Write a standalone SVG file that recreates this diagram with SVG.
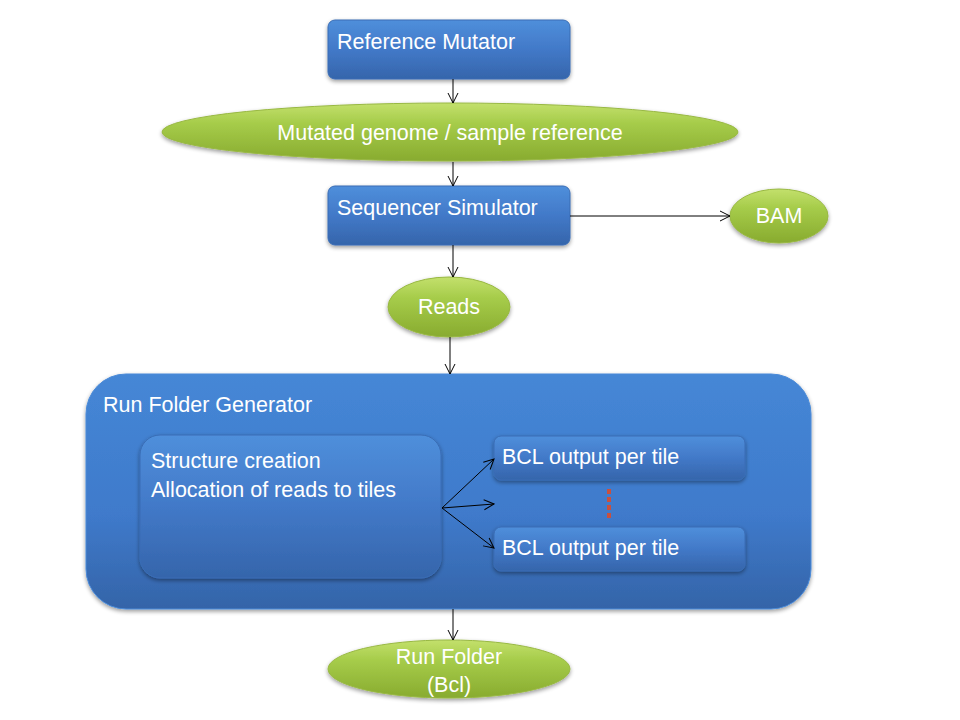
<svg xmlns="http://www.w3.org/2000/svg" width="960" height="720" viewBox="0 0 960 720">
<defs>
<linearGradient id="gBlue" x1="0" y1="0" x2="0" y2="1">
<stop offset="0" stop-color="#4f8fdb"/>
<stop offset="0.5" stop-color="#4279c8"/>
<stop offset="1" stop-color="#3565ab"/>
</linearGradient>
<linearGradient id="gBig" x1="0" y1="0" x2="0" y2="1">
<stop offset="0" stop-color="#4587d6"/>
<stop offset="0.6" stop-color="#3f7acb"/>
<stop offset="1" stop-color="#3464a8"/>
</linearGradient>
<linearGradient id="gGreen" x1="0" y1="0" x2="0" y2="1">
<stop offset="0" stop-color="#c3e06c"/>
<stop offset="0.35" stop-color="#a6cc4a"/>
<stop offset="1" stop-color="#88ab2f"/>
</linearGradient>
<filter id="sh" x="-10%" y="-10%" width="120%" height="130%">
<feGaussianBlur in="SourceAlpha" stdDeviation="2"/>
<feOffset dx="0" dy="2" result="b"/>
<feComponentTransfer><feFuncA type="linear" slope="0.4"/></feComponentTransfer>
<feMerge><feMergeNode/><feMergeNode in="SourceGraphic"/></feMerge>
</filter>
<marker id="arr" markerWidth="12" markerHeight="12" viewBox="0 0 12 12" refX="11" refY="6" orient="auto" markerUnits="userSpaceOnUse">
<polyline points="1,1 11,6 1,11" fill="none" stroke="#000" stroke-width="1"/>
</marker>
</defs>
<style>
.box{fill:url(#gBlue);stroke:#3a6db5;stroke-width:1;filter:url(#sh)}
.big{fill:url(#gBig);stroke:#4a8ad8;stroke-width:1;filter:url(#sh)}
.ell{fill:url(#gGreen);stroke:#98b842;stroke-width:1;filter:url(#sh)}
.t{font-family:"Liberation Sans",Arial,sans-serif;font-size:21.5px;fill:#ffffff}
.c{text-anchor:middle}
.ln{stroke:#000;stroke-width:1;fill:none;marker-end:url(#arr)}
.dot{fill:#c8503f}
</style>
<rect width="960" height="720" fill="#ffffff"/>

<g id="run-folder-generator">
<rect class="big" x="86" y="374" width="725" height="235" rx="40" ry="40"/>
<text class="t" x="103" y="412">Run Folder Generator</text>
</g>
<g id="structure-creation">
<rect class="box" x="140" y="435" width="301" height="143" rx="20" ry="20"/>
<text class="t" x="151" y="468">Structure creation</text>
<text class="t" x="151" y="497">Allocation of reads to tiles</text>
</g>
<g id="bcl-1">
<rect class="box" x="494" y="436" width="251" height="44" rx="7" ry="7"/>
<text class="t" x="502" y="464">BCL output per tile</text>
</g>
<g id="bcl-2">
<rect class="box" x="494" y="527" width="251" height="44" rx="7" ry="7"/>
<text class="t" x="502" y="555">BCL output per tile</text>
</g>
<g id="dots">
<rect class="dot" x="607" y="489" width="4" height="5"/>
<rect class="dot" x="607" y="497" width="4" height="5"/>
<rect class="dot" x="607" y="505" width="4" height="5"/>
<rect class="dot" x="607" y="513" width="4" height="5"/>
</g>

<g id="reference-mutator">
<rect class="box" x="328" y="20" width="242" height="59" rx="7" ry="7"/>
<text class="t" x="337" y="49">Reference Mutator</text>
</g>
<g id="mutated-genome">
<ellipse class="ell" cx="450" cy="132" rx="288" ry="29"/>
<text class="t c" x="450" y="140">Mutated genome / sample reference</text>
</g>
<g id="sequencer-simulator">
<rect class="box" x="328" y="186" width="242" height="59" rx="7" ry="7"/>
<text class="t" x="337" y="215">Sequencer Simulator</text>
</g>
<g id="bam">
<ellipse class="ell" cx="779" cy="216" rx="49" ry="27"/>
<text class="t c" x="779" y="223">BAM</text>
</g>
<g id="reads">
<ellipse class="ell" cx="449" cy="307" rx="61" ry="30"/>
<text class="t c" x="449" y="314">Reads</text>
</g>
<g id="run-folder">
<ellipse class="ell" cx="449" cy="669" rx="121" ry="29"/>
<text class="t c" x="449" y="664">Run Folder</text>
<text class="t c" x="449" y="692">(Bcl)</text>
</g>

<g id="connectors">
<line class="ln" x1="453" y1="79" x2="453" y2="103"/>
<line class="ln" x1="453" y1="162" x2="453" y2="186"/>
<line class="ln" x1="570" y1="216" x2="730" y2="216"/>
<line class="ln" x1="453" y1="245" x2="453" y2="277"/>
<line class="ln" x1="450" y1="337" x2="450" y2="374"/>
<line class="ln" x1="442" y1="508" x2="494" y2="459"/>
<line class="ln" x1="442" y1="508" x2="494" y2="504"/>
<line class="ln" x1="442" y1="508" x2="494" y2="548"/>
<line class="ln" x1="453" y1="609" x2="453" y2="640"/>
</g>
</svg>
